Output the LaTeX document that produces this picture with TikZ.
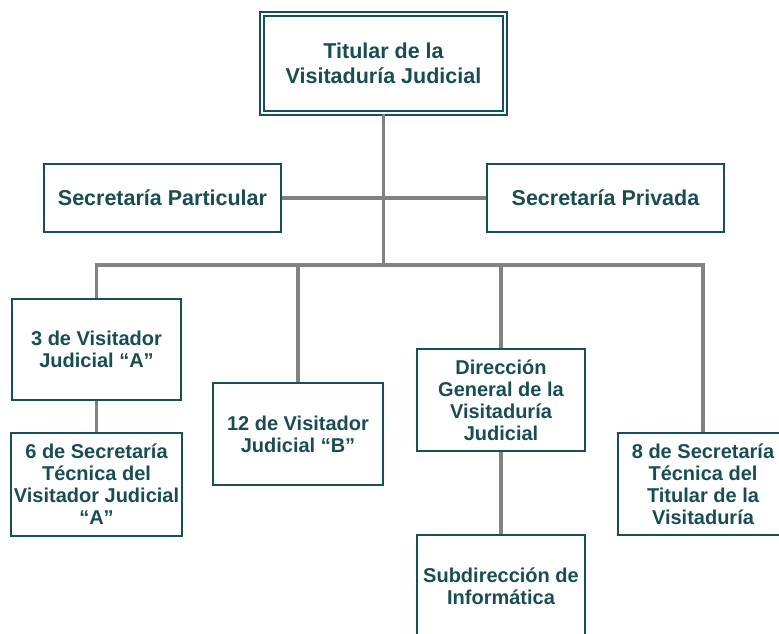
\documentclass[tikz,border=0pt]{standalone}
\usepackage{fontspec}
\setmainfont{Liberation Sans}
\usetikzlibrary{positioning}
\definecolor{boxteal}{RGB}{24,80,90}
\definecolor{textteal}{RGB}{24,78,82}
\definecolor{linegray}{RGB}{130,130,130}

\tikzset{
  unitbox/.style={draw=boxteal, line width=2pt, fill=white, align=center,
    text=textteal, font=\fontsize{20}{22}\selectfont\bfseries, inner sep=2pt},
  topbox/.style={unitbox, double=white, double distance=2.5pt, line width=2pt,
    font=\fontsize{21.5}{25}\selectfont\bfseries},
  link/.style={draw=linegray, line width=3.8pt}
}

\begin{document}
\begin{tikzpicture}[x=1pt, y=-1pt]
  \useasboundingbox (0,0) rectangle (779,633);
  \clip (0,0) rectangle (779,633);

  % Head of the unit
  \node[topbox, minimum width=243pt, minimum height=99pt] (top) at (383.5,63.5)
    {Titular de la\\Visitaduría Judicial};

  % Secretaries
  \node[unitbox, minimum width=237pt, minimum height=68pt,
    font=\fontsize{21.5}{25}\selectfont\bfseries] (secpart) at (162.5,198)
    {Secretaría Particular};
  \node[unitbox, minimum width=237pt, minimum height=68pt,
    font=\fontsize{21.5}{25}\selectfont\bfseries] (secpriv) at (605.5,198)
    {Secretaría Privada};

  % Lower units
  \node[unitbox, minimum width=169pt, minimum height=101pt] (visA) at (96.5,349.5)
    {3 de Visitador\\Judicial “A”};
  \node[unitbox, minimum width=171pt, minimum height=103pt] (secA) at (96.5,484.5)
    {6 de Secretaría\\Técnica del\\Visitador Judicial\\“A”};
  \node[unitbox, minimum width=170pt, minimum height=102pt] (visB) at (298,434)
    {12 de Visitador\\Judicial “B”};
  \node[unitbox, minimum width=168pt, minimum height=102pt] (dir) at (501,400)
    {Dirección\\General de la\\Visitaduría\\Judicial};
  \node[unitbox, minimum width=168pt, minimum height=102pt] (subdir) at (501,586)
    {Subdirección de\\Informática};
  \node[unitbox, minimum width=170pt, minimum height=102pt] (secT) at (703,484)
    {8 de Secretaría\\Técnica del\\Titular de la\\Visitaduría};

  % Connectors
  \coordinate (bus) at (383.5,265);
  \draw[link] (top.south) -- (bus);
  \draw[link] (secpart.east) -- (secpriv.west);
  \draw[link] (visA.north) |- (bus) -| (secT.north);
  \foreach \unit in {visB, dir}
    \draw[link] (bus -| \unit.north) -- (\unit.north);
  \draw[link] (visA.south) -- (secA.north);
  \draw[link] (dir.south) -- (subdir.north);
\end{tikzpicture}
\end{document}
